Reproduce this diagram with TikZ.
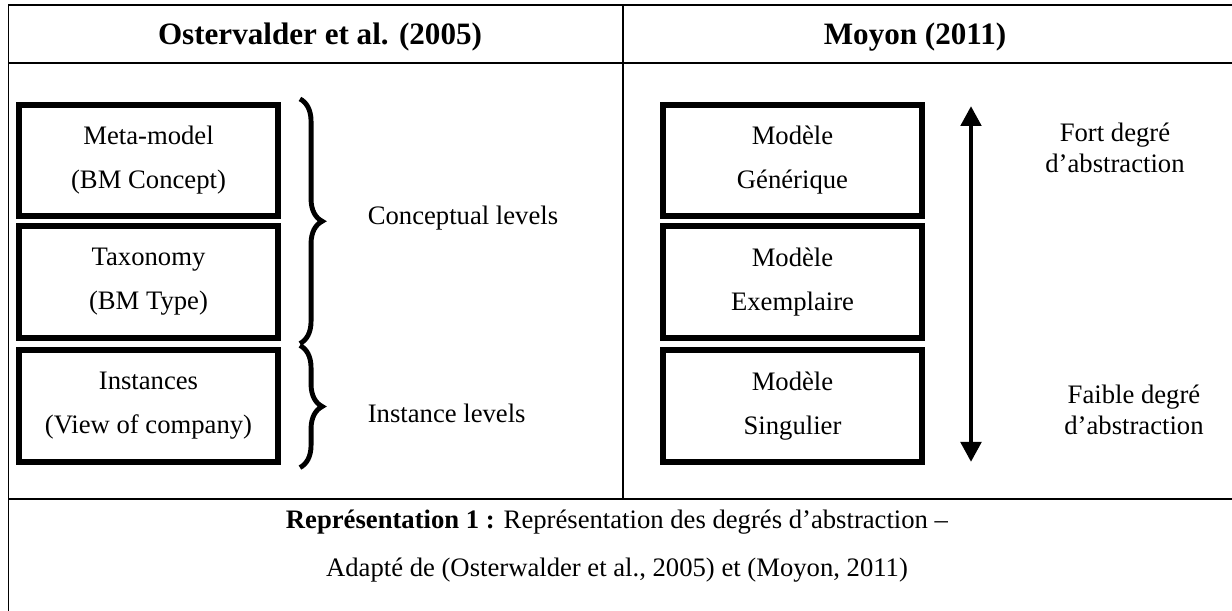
\documentclass[tikz,border=0pt]{standalone}
\usepackage{fontspec}
\setmainfont{Liberation Serif}
\usetikzlibrary{calc}
\usetikzlibrary{arrows.meta}
\usetikzlibrary{decorations.pathreplacing}

\begin{document}
\begin{tikzpicture}[
        x=0.45pt, y=-0.45pt,
        rule/.style={line width=0.75pt},
        lvl/.style={draw, line width=2.7pt, minimum width=116.5pt,
            minimum height=50pt, align=center, inner sep=0pt,
            font=\fontsize{12}{19.8}\selectfont},
        hdr/.style={font=\fontsize{14}{16}\selectfont\bfseries},
        txt/.style={font=\fontsize{12}{13.8}\selectfont, align=center},
        cbrace/.style={decorate, decoration={brace, amplitude=10pt},
            line width=2.2pt},
        dbl/.style={{Triangle[width=9pt,length=9pt]}-{Triangle[width=9pt,length=9pt]},
            line width=2.2pt}
    ]
    \useasboundingbox (0,0) rectangle (1232,611);
    % table rules
    \draw[rule] (8.5,611) -- (8.5,5) -- (1232,5);
    \draw[rule] (8.5,62.7) -- (1232,62.7);
    \draw[rule] (622.7,5) -- (622.7,499);
    \draw[rule] (8.5,499) -- (1232,499);

    \node[hdr] (H1) at (320,37) {Ostervalder et al. (2005)};
    \node[hdr] (H2) at (915,37) {Moyon (2011)};

    % left column
    \node[lvl] (meta) at (148.5,160.5) {Meta-model\\(BM Concept)};
    \node[lvl] (taxo) at (148.5,282) {Taxonomy\\(BM Type)};
    \node[lvl] (inst) at (148.5,406) {Instances\\(View of company)};
    \draw[cbrace] ($(meta.north east)+(19,-3)$) -- ($(taxo.south east)+(19,3)$);
    \draw[cbrace] ($(inst.north east)+(19,-2)$) -- ($(inst.south east)+(19,3)$);
    \node[txt, anchor=west] (C) at (360,218) {Conceptual levels};
    \node[txt, anchor=west] (I) at (360,413) {Instance levels};

    % right column
    \node[lvl] (gen) at (792.5,160.5) {Modèle\\Générique};
    \node[lvl] (exem) at (792.5,282) {Modèle\\Exemplaire};
    \node[lvl] (sing) at (792.5,406) {Modèle\\Singulier};
    \coordinate (up) at (971,106);
    \coordinate (down) at (971,462);
    \draw[dbl] (down) -- (up);
    \node[txt] (F) at (1115,148) {Fort degré\\d’abstraction};
    \node[txt] (W) at (1134,410) {Faible degré\\d’abstraction};

    % caption
    \node[txt] (R1) at (617,522) {\textbf{Représentation 1 :} Représentation des degrés d’abstraction –};
    \node[txt] (R2) at (617,570) {Adapté de (Osterwalder et al., 2005) et (Moyon, 2011)};
\end{tikzpicture}
\end{document}
